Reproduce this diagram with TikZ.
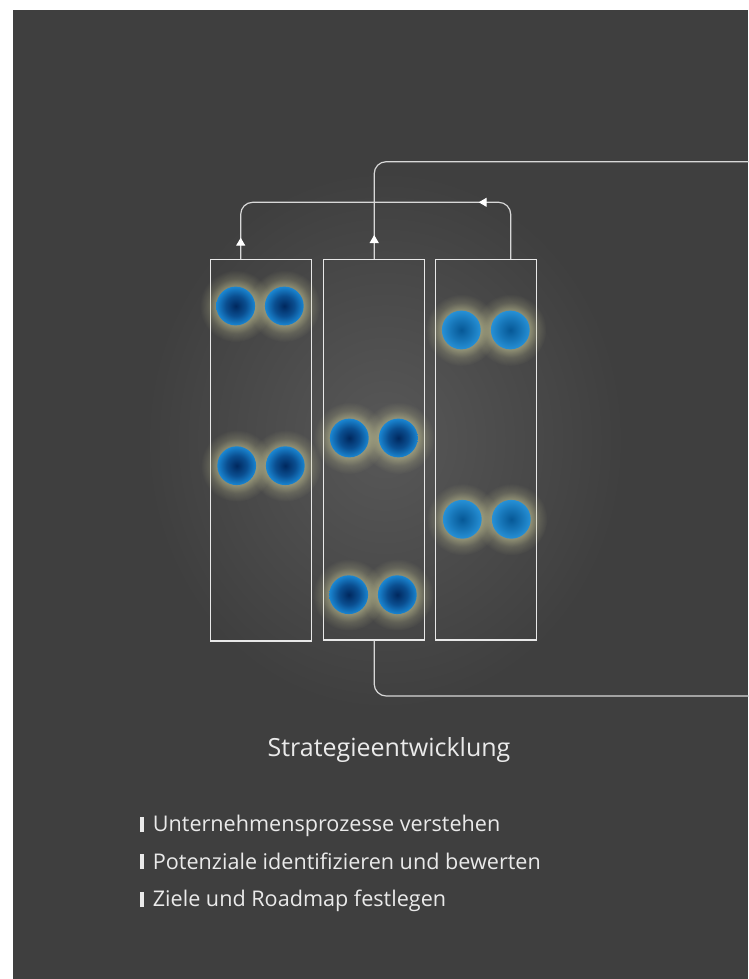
\documentclass[tikz,border=0pt]{standalone}
\usepackage{fontspec}
\setmainfont{Open Sans}
\usetikzlibrary{arrows.meta,fadings}
\definecolor{bg}{HTML}{3F3F3F}
\definecolor{bgglow}{HTML}{585858}
\definecolor{linec}{HTML}{D8D8D8}
\definecolor{boxc}{HTML}{E8E8E8}
\definecolor{txt}{HTML}{EAEAEA}
\definecolor{halocol}{RGB}{200,200,150}
\definecolor{dA}{HTML}{00285E}
\definecolor{dB}{HTML}{0A4E90}
\definecolor{dC}{HTML}{1A86D2}
\definecolor{lA}{HTML}{065896}
\definecolor{lB}{HTML}{1674B6}
\definecolor{lC}{HTML}{2690D6}
\pgfdeclareradialshading{darkball}{\pgfpointorigin}{color(0bp)=(dA); color(13bp)=(dB); color(25bp)=(dC); color(50bp)=(dC)}
\pgfdeclareradialshading{lightball}{\pgfpointorigin}{color(0bp)=(lA); color(13bp)=(lB); color(25bp)=(lC); color(50bp)=(lC)}
\pgfdeclareradialshading{halosh}{\pgfpointorigin}{color(0bp)=(pgftransparent!0); color(13.5bp)=(pgftransparent!45); color(19bp)=(pgftransparent!80); color(25bp)=(pgftransparent!100); color(50bp)=(pgftransparent!100)}
\pgfdeclarefading{halo}{\pgfuseshading{halosh}}
\tikzset{
  panel/.style={draw=boxc, line width=1.2pt, inner sep=0pt, minimum width=101pt},
  conn/.style={draw=linec, line width=1.2pt, rounded corners=12pt},
  tip/.style={draw=linec, line width=1.2pt, -{Triangle[width=9pt,length=8pt,fill=white,color=white]}},
  glow/.style={fill=halocol, path fading=halo},
  dball/.style={shading=darkball},
  lball/.style={shading=lightball},
  txtlabel/.style={text=txt, inner sep=0pt, anchor=base west}
}
\newcommand{\ballpair}[4]{%
  \fill[glow] (#1,#3) circle (36pt);
  \fill[glow] (#2,#3) circle (36pt);
  \shade[#4] (#1,#3) circle (19.4pt);
  \shade[#4] (#2,#3) circle (19.4pt);
}
\newcommand{\barmark}{\rule{4pt}{15pt}\hspace{9.4pt}}
\begin{document}
\begin{tikzpicture}[x=1pt,y=-1pt]
\useasboundingbox (0,0) rectangle (748,979);
\fill[white] (0,0) rectangle (748,979);
\fill[bg] (13,10) rectangle (748,979);
\shade[inner color=bgglow, outer color=bg] (385,440) ellipse (240pt and 270pt);

% boxes
\node[panel, minimum height=381.7pt] (b1) at (260.8,450.2) {};
\node[panel, minimum height=380.7pt] (b2) at (373.7,449.7) {};
\node[panel, minimum height=380.7pt] (b3) at (486.2,449.7) {};

% balls
\ballpair{235.7}{284.3}{306}{dball}
\ballpair{236.7}{285.3}{465.7}{dball}
\ballpair{349.3}{398.3}{438}{dball}
\ballpair{348.7}{397.3}{594.7}{dball}
\ballpair{461.3}{510.3}{330}{lball}
\ballpair{462.3}{511.3}{519.3}{lball}

% connectors
\coordinate (t1) at (240.7,202.3);
\coordinate (t3) at (510.7,202.3);
\coordinate (t2) at (374.2,161.7);
\coordinate (e2) at (760,161.7);
\coordinate (u2) at (374.2,696);
\coordinate (e3) at (760,696);
\coordinate (a1) at (240.7,237.7);
\coordinate (a2) at (374.2,235);
\coordinate (h3s) at (495,202.3);
\coordinate (a3) at (478.7,202.3);

\draw[conn] ([xshift=24.5pt]b3.north) -- (t3) -- (t1) -- ([xshift=-20.1pt]b1.north);
\draw[conn] ([xshift=0.5pt]b2.north) -- (t2) -- (e2);
\draw[conn] ([xshift=0.5pt]b2.south) -- (u2) -- (e3);
\draw[tip] ([xshift=-20.1pt]b1.north) -- (a1);
\draw[tip] ([xshift=0.5pt]b2.north) -- (a2);
\draw[tip] (h3s) -- (a3);

% texts
\node[text=txt, inner sep=0pt, anchor=base, font=\fontsize{25}{30}\selectfont] (title) at (389,756) {Strategieentwicklung};
\node[txtlabel, font=\fontsize{21.6}{26}\selectfont] (l1) at (139.3,831.7) {\barmark Unternehmensprozesse verstehen};
\node[txtlabel, font=\fontsize{21.6}{26}\selectfont] (l2) at (139.3,869) {\barmark Potenziale identifizieren und bewerten};
\node[txtlabel, font=\fontsize{21.6}{26}\selectfont] (l3) at (139.3,906.5) {\barmark Ziele und Roadmap festlegen};
\end{tikzpicture}
\end{document}
